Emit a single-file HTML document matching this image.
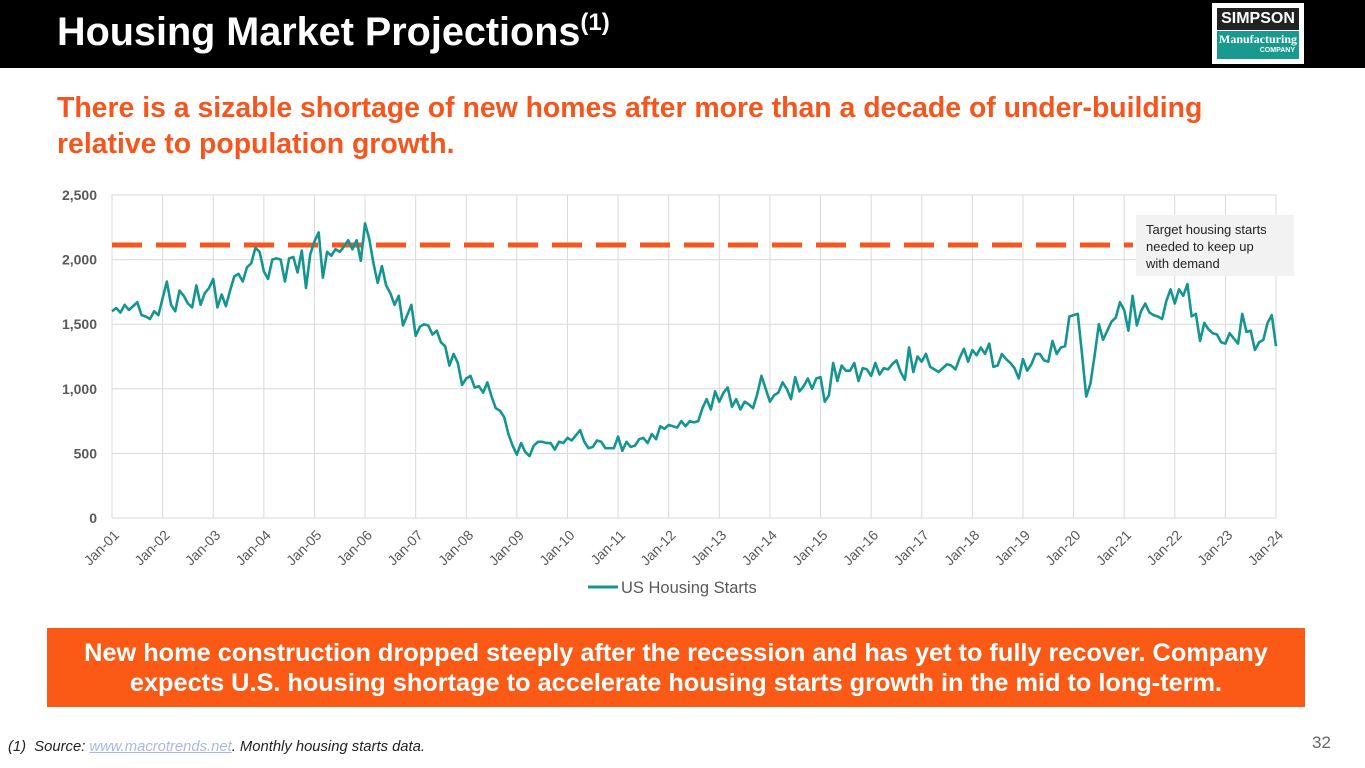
<!DOCTYPE html>
<html><head><meta charset="utf-8">
<style>
body{margin:0;width:1365px;height:768px;position:relative;background:#fff;font-family:"Liberation Sans",Arial,sans-serif;overflow:hidden}
.hdr{position:absolute;left:0;top:0;width:1365px;height:68px;background:#000}
.title{position:absolute;left:57px;top:9px;color:#fff;font-weight:bold;font-size:39.6px}
.title sup{font-size:24px;vertical-align:15px}
.logo{position:absolute;left:1212px;top:3px;width:92px;height:61px;background:#fff}
.sub{position:absolute;left:57px;top:90px;color:#F4561D;font-weight:bold;font-size:28.4px;line-height:36px}
.box{position:absolute;left:47px;top:628px;width:1258px;height:79px;background:#FA5A16;color:#fff;font-weight:bold;font-size:25.3px;text-align:center;line-height:30px;display:flex;align-items:center;justify-content:center}
.foot{position:absolute;left:8px;top:739px;font-size:14.8px;font-style:italic;color:#222}
.foot span{color:#a9b8e8;text-decoration:underline}
.pg{position:absolute;left:1312px;top:733px;font-size:17px;color:#666}
</style></head><body>
<div class="hdr"></div>
<div class="title">Housing Market Projections<sup>(1)</sup></div>
<div class="logo">
 <div style="position:absolute;left:5px;top:5px;width:82px;height:22px;background:#222;color:#fff;font-weight:bold;font-size:16px;text-align:center;line-height:22px">SIMPSON</div>
 <div style="position:absolute;left:5px;top:28px;width:82px;height:28px;background:#1a9a8f;color:#fff;font-family:'Liberation Serif',serif;font-weight:bold;font-size:12px;text-align:center;line-height:16px">Manufacturing<div style="font-family:'Liberation Sans';font-size:7px;line-height:8px;text-align:right;padding-right:4px">COMPANY</div></div>
</div>
<div class="sub">There is a sizable shortage of new homes after more than a decade of under-building<br>relative to population growth.</div>
<svg id="chart" width="1365" height="768" style="position:absolute;left:0;top:0"></svg>
<div class="box">New home construction dropped steeply after the recession and has yet to fully recover. Company<br>expects U.S. housing shortage to accelerate housing starts growth in the mid to long-term.</div>
<div class="foot">(1)&nbsp; Source: <span>www.macrotrends.net</span>. Monthly housing starts data.</div>
<div class="pg">32</div>
<script>
const yearLabels=["Jan-01","Jan-02","Jan-03","Jan-04","Jan-05","Jan-06","Jan-07","Jan-08","Jan-09","Jan-10","Jan-11","Jan-12","Jan-13","Jan-14","Jan-15","Jan-16","Jan-17","Jan-18","Jan-19","Jan-20","Jan-21","Jan-22","Jan-23","Jan-24"];
const yTicks=[0,500,1000,1500,2000,2500];
const targetStarts=2113;
const starts=[
1600,1625,1590,1650,1610,1640,1670,1570,1560,1540,1600,1570,
1700,1830,1650,1600,1760,1720,1660,1630,1800,1650,1740,1780,
1850,1630,1730,1640,1760,1870,1890,1830,1940,1970,2090,2060,
1910,1850,2000,2010,2000,1830,2010,2020,1900,2070,1780,2040,
2140,2210,1860,2060,2030,2080,2060,2100,2150,2080,2150,1990,
2280,2160,1970,1820,1950,1800,1740,1650,1720,1490,1570,1650,
1410,1480,1500,1490,1420,1450,1360,1330,1180,1270,1200,1030,
1080,1100,1010,1020,970,1050,940,850,830,780,650,560,
490,580,510,480,560,590,590,580,580,530,590,580,
620,600,640,680,590,540,550,600,590,540,540,540,
630,520,590,550,560,610,620,580,650,610,710,690,
720,710,700,750,710,750,740,750,850,920,840,980,
900,970,1010,860,920,840,900,880,850,960,1100,1000,
900,950,970,1050,1000,920,1090,980,1020,1080,1000,1080,
1090,900,950,1200,1060,1180,1140,1140,1200,1060,1160,1150,
1100,1200,1110,1160,1150,1190,1220,1130,1070,1320,1130,1250,
1210,1270,1170,1150,1130,1160,1190,1180,1150,1240,1310,1210,
1300,1260,1320,1270,1350,1170,1180,1270,1230,1200,1160,1080,
1230,1140,1190,1270,1270,1220,1210,1370,1270,1320,1330,1560,
1570,1580,1270,940,1040,1260,1500,1380,1450,1520,1550,1670,
1610,1450,1720,1490,1600,1660,1590,1570,1560,1540,1680,1770,
1660,1770,1720,1810,1560,1580,1370,1510,1460,1430,1420,1360,
1350,1430,1390,1350,1580,1440,1450,1300,1360,1380,1510,1570,
1330];
const svg=document.getElementById('chart');const NS='http://www.w3.org/2000/svg';
const X0=112,X1=1276,Y0=518,Y1=195,YMAX=2500;
const xm=i=>X0+(X1-X0)*i/((yearLabels.length-1)*12);
const y=v=>Y0-(Y0-Y1)*v/YMAX;
function mk(t,a,p){const e=document.createElementNS(NS,t);for(const k in a)e.setAttribute(k,a[k]);(p||svg).appendChild(e);return e;}
yTicks.forEach(v=>{
 const l=mk('line',{x1:X0,x2:X1,y1:y(v),y2:y(v),stroke:'#d9d9d9','stroke-width':1});
 
 
 const t=mk('text',{x:97,y:y(v)+5,'text-anchor':'end','font-size':14,'font-weight':'bold',fill:'#595959'});
 t.textContent=v.toLocaleString('en-US');
 
 
});
yearLabels.forEach((lab,i)=>{
 const x=xm(i*12);
 const l=mk('line',{x1:x,x2:x,y1:Y1,y2:Y0,stroke:'#d9d9d9','stroke-width':1});
 
 
 const t=mk('text',{x:x+8,y:Y0+18,'text-anchor':'end','font-size':14,fill:'#595959',transform:`rotate(-45 ${x+8} ${Y0+18})`});
 t.textContent=lab;
 
 
});
const tl=mk('line',{x1:X0,x2:1133,y1:y(targetStarts),y2:y(targetStarts),stroke:'#F4561D','stroke-width':5,'stroke-dasharray':'30,14'});


const p=mk('polyline',{points:starts.map((v,i)=>xm(i)+','+y(v)).join(' '),fill:'none',stroke:'#159590','stroke-width':2.6,'stroke-linejoin':'round'});


const ab=mk('rect',{x:1136,y:215,width:158,height:61,fill:'#f2f2f2'});


["Target housing starts","needed to keep up","with demand"].forEach((s,i)=>{const t=mk('text',{x:1146,y:234+i*17,'font-size':13,fill:'#222'});t.textContent=s;
 
 });
const ll=mk('line',{x1:588,x2:618,y1:587,y2:587,stroke:'#159590','stroke-width':3});


const lt=mk('text',{x:621,y:593,'font-size':16.5,fill:'#595959'});lt.textContent='US Housing Starts';


</script>
</body></html>
